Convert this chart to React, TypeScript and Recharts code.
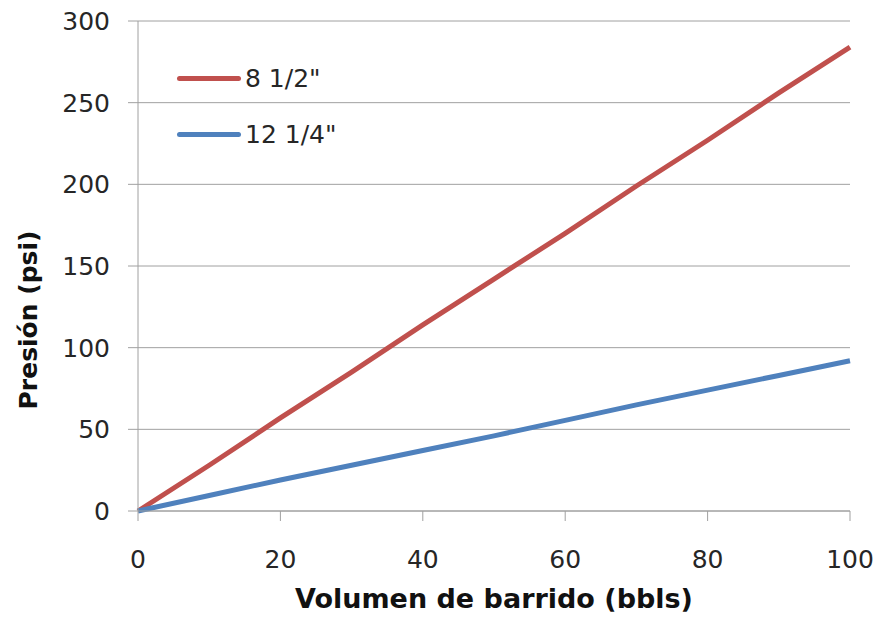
import { CartesianGrid, Line, LineChart, XAxis, YAxis } from "recharts";

const volumes = [0, 10, 20, 30, 40, 50, 60, 70, 80, 90, 100];
const pressure8half = [0, 28, 57, 85, 114, 142, 170, 199, 227, 256, 284];
const pressure12quarter = [0, 9.5, 19, 28, 37, 46, 55.5, 65, 74, 83, 92];
const xTicks = [0, 20, 40, 60, 80, 100];
const yTicks = [0, 50, 100, 150, 200, 250, 300];

const series = [
  { key: "a", name: "8 1/2\"", color: "#C0504D" },
  { key: "b", name: "12 1/4\"", color: "#4F81BD" },
];

const data = volumes.map((v, i) => ({
  v,
  a: pressure8half[i],
  b: pressure12quarter[i],
}));

const tickFont = { fill: "#262626", fontSize: 25, fontFamily: "DejaVu Sans" };
const gridGray = "#a0a0a0";

// legend sits inside the plot, top-left, like the Excel original
function LegendBox() {
  return (
    <div
      style={{
        position: "absolute",
        left: 177,
        top: 50,
        fontFamily: "DejaVu Sans",
        fontSize: 25,
        color: "#262626",
      }}
    >
      {series.map((s) => (
        <div
          key={s.key}
          style={{ display: "flex", alignItems: "center", height: 56 }}
        >
          <span
            style={{
              display: "inline-block",
              width: 64,
              height: 5,
              borderRadius: 3,
              background: s.color,
              marginRight: 4,
            }}
          />
          {s.name}
        </div>
      ))}
    </div>
  );
}

function YTitle({ viewBox }: { viewBox?: { x: number; y: number; width: number; height: number } }) {
  if (!viewBox) return null;
  const cx = 28;
  const cy = viewBox.y + viewBox.height / 2 + 54;
  return (
    <text
      x={cx}
      y={cy}
      transform={`rotate(-90, ${cx}, ${cy})`}
      textAnchor="middle"
      dominantBaseline="central"
      fill="#111"
      fontSize={25}
      fontWeight="bold"
      fontFamily="DejaVu Sans"
    >
      Presión (psi)
    </text>
  );
}

export default function App() {
  return (
    <div style={{ position: "absolute", left: 0, top: 0, width: 880, height: 621, background: "#fff" }}>
      <LineChart
        width={880}
        height={621}
        data={data}
        margin={{ top: 21, right: 30, bottom: 0, left: 0 }}
      >
        <CartesianGrid stroke={gridGray} vertical={false} />
        <XAxis
          dataKey="v"
          type="number"
          domain={[0, 100]}
          ticks={xTicks}
          height={110}
          tickSize={10}
          tickMargin={29}
          tick={tickFont}
          stroke={gridGray}
          label={{
            value: "Volumen de barrido (bbls)",
            position: "insideBottom",
            offset: 13,
            fill: "#111",
            fontSize: 27,
            fontWeight: "bold",
            fontFamily: "DejaVu Sans",
          }}
        />
        <YAxis
          type="number"
          domain={[0, 300]}
          ticks={yTicks}
          width={138}
          tickSize={10}
          tickMargin={18}
          tick={tickFont}
          stroke={gridGray}
          label={<YTitle />}
        />
        {series.map((s) => (
          <Line
            key={s.key}
            type="linear"
            dataKey={s.key}
            name={s.name}
            stroke={s.color}
            strokeWidth={5}
            dot={false}
            isAnimationActive={false}
          />
        ))}
      </LineChart>
      <LegendBox />
    </div>
  );
}
